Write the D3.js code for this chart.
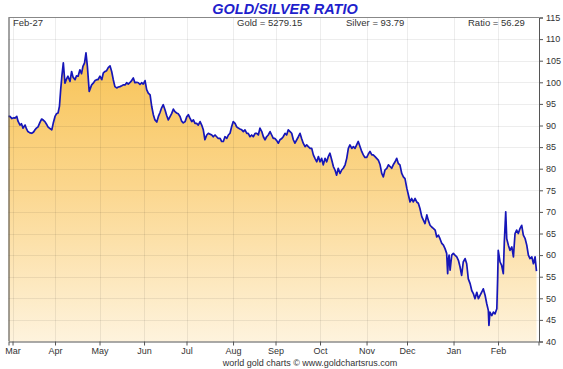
<!DOCTYPE html>
<html>
<head>
<meta charset="utf-8">
<script src="https://cdn.jsdelivr.net/npm/d3@7"></script>
<style>
  html, body { margin: 0; padding: 0; background: #fff; }
  svg { display: block; font-family: "Liberation Sans", Arial, sans-serif; }
</style>
</head>
<body>
<svg id="chart" width="563" height="369"></svg>
<script>
// ---- data ----
const startDate = "2025-02-27";
const endDate = "2026-02-27";
const monthLabels = ["Mar","Apr","May","Jun","Jul","Aug","Sep","Oct","Nov","Dec","Jan","Feb"];
const yTicks = [40,45,50,55,60,65,70,75,80,85,90,95,100,105,110,115];
const headerDate = "Feb-27";
const goldPrice = "5279.15";
const silverPrice = "93.79";
const lastRatio = "56.29";
// trading-day offset from Feb-27 (weekdays)
const tradeDay = [0,0.7,1.7,2.7,3.2,4.1,4.7,5.7,6.4,7.2,8.2,8.9,9.6,10.6,11.5,12.4,13.1,13.8,14.6,15.6,16.4,17.3,18.0,18.8,19.5,20.5,21.4,22.1,23.0,23.7,24.5,25.2,25.8,26.4,27.1,27.9,28.7,29.4,30.4,31.2,31.9,32.9,33.6,34.4,35.3,36.1,36.8,37.6,38.3,39.0,39.9,41.1,41.9,42.8,43.6,44.2,45.2,46.1,46.9,47.7,48.5,49.3,50.2,51.0,51.8,52.6,53.5,54.3,55.1,56.0,56.7,57.6,58.4,59.2,60.1,60.9,61.7,62.5,63.4,64.2,65.0,65.8,66.6,67.5,68.3,69.1,70.0,70.8,71.6,72.4,73.3,74.1,74.9,75.7,76.5,77.4,78.2,79.0,79.8,80.7,81.5,82.3,83.1,83.9,84.8,85.6,86.4,87.3,88.1,88.9,89.7,90.6,91.4,92.2,93.0,93.8,94.7,95.5,96.3,97.1,98.0,98.8,99.6,100.5,101.2,102.1,102.9,103.7,104.6,105.4,106.2,107.0,107.9,108.7,109.5,110.3,111.1,112.0,112.8,113.6,114.4,115.3,116.1,116.9,117.8,118.5,119.4,120.2,121.0,121.9,122.7,123.5,124.3,125.2,126.0,126.8,127.6,128.4,129.3,130.1,130.9,131.7,132.6,133.4,134.2,135.1,135.8,136.7,137.5,138.3,139.2,140.0,140.8,141.6,142.5,143.3,144.1,144.9,145.7,146.6,147.4,148.2,149.1,149.9,150.7,151.5,152.4,153.2,154.0,154.8,155.6,156.5,157.3,158.1,158.9,159.8,160.6,161.4,162.2,163.0,163.9,164.7,165.5,166.4,167.2,168.0,168.8,169.7,170.5,171.3,172.1,172.9,173.8,174.6,175.4,176.2,177.1,177.9,178.7,179.6,180.3,181.2,182.0,182.8,183.7,184.5,185.3,186.1,187.0,187.8,188.6,189.4,190.2,191.1,191.9,192.7,193.5,194.4,195.2,196.0,196.9,197.7,198.5,199.3,200.1,201.0,201.8,202.6,203.4,204.3,205.1,205.9,206.8,207.5,208.4,209.2,210.0,210.9,211.7,212.5,213.3,214.2,215.0,215.8,216.6,217.1,217.4,217.8,218.3,219.1,219.9,220.7,221.6,222.4,223.2,224.0,224.8,225.7,226.5,227.3,228.2,229.0,229.8,230.6,231.5,232.3,233.1,233.9,234.7,235.6,236.4,237.2,237.5,238.0,238.9,239.7,240.5,241.4,241.8,242.1,243.0,243.8,244.6,245.1,245.8,246.3,247.1,247.9,248.8,249.6,250.4,251.2,252.0,252.9,253.7,254.5,255.4,256.2,257.0,257.8,258.7,259.5,260.3,261.0];
const ratio = [92.1,92.1,91.6,91.8,91.7,92.1,91.0,90.1,90.4,89.4,90.1,89.2,88.6,88.3,88.2,88.5,89.0,89.4,89.7,90.8,91.5,91.2,90.9,90.3,89.7,89.3,89.0,90.5,92.1,92.7,92.9,94.5,98.3,101.5,104.5,99.8,100.8,101.4,100.2,102.5,101.2,100.6,101.5,101.4,102.9,102.0,103.7,104.5,106.8,103.7,97.9,99.4,99.8,100.4,100.6,100.6,101.4,100.6,102.2,102.5,102.7,103.4,103.8,102.5,100.6,99.0,98.7,98.9,99.0,99.2,99.4,99.4,99.9,99.6,100.0,100.4,101.0,99.9,100.0,99.9,99.5,99.9,99.6,100.4,98.3,97.5,97.1,94.4,92.5,91.3,90.8,92.1,93.0,94.1,94.8,93.6,92.3,91.3,92.0,92.8,93.8,93.2,92.9,92.7,92.1,91.0,90.6,90.9,92.0,92.5,91.7,90.9,91.3,90.5,90.5,90.1,90.9,90.1,89.0,86.7,87.8,88.2,88.0,87.8,87.4,87.8,87.4,87.0,87.0,86.3,86.3,87.4,87.0,87.8,88.2,89.7,90.9,90.5,89.7,89.4,89.2,89.0,88.6,89.0,88.2,88.2,87.4,87.8,87.4,88.2,88.2,87.8,89.4,88.6,87.4,86.7,87.4,87.8,88.6,87.8,87.0,87.0,86.5,85.9,86.7,87.0,87.4,88.2,87.8,89.0,88.6,88.2,86.7,85.9,86.7,87.4,88.2,87.0,85.9,85.1,85.5,85.1,84.7,84.7,83.2,82.4,81.6,82.8,81.6,82.4,80.9,82.4,81.6,82.8,83.6,82.0,80.5,79.7,78.5,80.1,78.9,79.7,80.1,80.9,82.4,84.7,85.5,84.7,85.1,84.7,85.5,86.3,85.1,84.0,83.2,82.6,82.6,83.4,84.0,83.2,83.2,82.8,82.4,82.0,80.9,78.9,78.1,79.7,80.1,80.9,80.5,80.1,80.9,81.6,82.4,81.2,80.9,78.9,78.1,77.7,75.5,73.9,72.3,73.1,72.3,73.1,72.3,72.0,70.8,68.9,68.1,67.3,69.3,68.1,66.9,66.5,66.2,65.8,64.2,64.6,63.8,62.7,62.3,61.5,60.4,55.7,58.8,60.0,56.5,60.0,60.4,60.0,59.6,58.8,57.3,55.3,58.4,59.2,58.0,54.5,53.4,51.8,51.1,49.9,51.4,49.9,50.7,51.4,52.2,50.7,48.8,47.2,43.7,46.8,46.0,46.8,46.4,47.6,54.5,61.1,58.4,57.6,55.7,63.0,70.0,63.8,62.3,61.1,61.9,59.6,65.0,65.8,65.0,66.2,66.9,64.6,63.8,62.3,60.0,59.2,59.6,58.0,59.6,56.29];

(function () {
// ---- build trading calendar (weekdays) to place month ticks ----
const parse = d3.utcParse("%Y-%m-%d");
const allDays = d3.utcDay.range(parse(startDate), d3.utcDay.offset(parse(endDate), 1));
const tradingDates = allDays.filter(d => d.getUTCDay() !== 0 && d.getUTCDay() !== 6);
const monthTickIdx = [];
tradingDates.forEach((d, i) => {
  if (i > 0 && d.getUTCMonth() !== tradingDates[i - 1].getUTCMonth()) monthTickIdx.push(i);
});

const data = tradeDay.map((t, i) => ({ t, v: ratio[i] }));

// ---- layout ----
const svg = d3.select("#chart");
const pL = 8.5, pR = 539, pT = 17.5, pB = 341.5;
const x = d3.scaleLinear().domain([0, tradingDates.length]).range([pL, pR - 0.5]);
const y = d3.scaleLinear().domain([40, 115]).range([pB, pT]);

const defs = svg.append("defs");
const grad = defs.append("linearGradient").attr("id", "gold")
  .attr("gradientUnits", "userSpaceOnUse")
  .attr("x1", 0).attr("x2", 0).attr("y1", y(106)).attr("y2", y(40));
grad.append("stop").attr("offset", "0%").attr("stop-color", "#f8c458");
grad.append("stop").attr("offset", "45%").attr("stop-color", "#fbd68c");
grad.append("stop").attr("offset", "100%").attr("stop-color", "#fef3dd");

// area
const area = d3.area().x(d => x(d.t)).y0(y(40)).y1(d => y(d.v));
svg.append("path").datum(data).attr("d", area).attr("fill", "url(#gold)");

// grid
const grid = svg.append("g").attr("stroke", "#000").attr("stroke-opacity", 0.07).attr("stroke-width", 1);
yTicks.filter(v => v > 40 && v < 115).forEach(v => {
  grid.append("line").attr("x1", pL).attr("x2", pR).attr("y1", Math.round(y(v)) + 0.5).attr("y2", Math.round(y(v)) + 0.5);
});
monthTickIdx.forEach(i => {
  grid.append("line").attr("y1", pT).attr("y2", pB).attr("x1", Math.round(x(i)) + 0.5).attr("x2", Math.round(x(i)) + 0.5);
});

// line
const line = d3.line().x(d => x(d.t)).y(d => y(d.v));
svg.append("path").datum(data).attr("d", line)
  .attr("fill", "none").attr("stroke", "#1616b8").attr("stroke-width", 1.7).attr("stroke-linejoin", "round");

// frame
svg.append("line").attr("x1", pL + 0.5).attr("x2", pL + 0.5).attr("y1", pT).attr("y2", pB).attr("stroke", "#444");
svg.append("line").attr("x1", pL).attr("x2", pR).attr("y1", pT).attr("y2", pT).attr("stroke", "#888");

// axes
const yAxis = svg.append("g").attr("transform", `translate(${pR},0)`)
  .call(d3.axisRight(y).tickValues(yTicks).tickSize(4).tickPadding(3));
const xAxis = svg.append("g").attr("transform", `translate(0,${pB})`)
  .call(d3.axisBottom(x).tickValues(monthTickIdx).tickFormat((d, i) => monthLabels[i]).tickSize(4).tickPadding(2));
[yAxis, xAxis].forEach(g => {
  g.select(".domain").attr("stroke", "#555");
  g.selectAll(".tick line").attr("stroke", "#555");
  g.selectAll("text").attr("fill", "#333").attr("font-size", 9).attr("font-family", "Liberation Sans, Arial, sans-serif");
});

// header row
const hdr = svg.append("g").attr("font-size", 9.5).attr("fill", "#333");
hdr.append("text").attr("x", 13).attr("y", 26).text(headerDate);
hdr.append("text").attr("x", 237).attr("y", 26).text(`Gold = ${goldPrice}`);
hdr.append("text").attr("x", 346).attr("y", 26).text(`Silver = ${silverPrice}`);
hdr.append("text").attr("x", 468).attr("y", 26).text(`Ratio = ${lastRatio}`);

// title
svg.append("text").attr("x", 285).attr("y", 14).attr("text-anchor", "middle")
  .attr("font-size", 14.5).attr("font-weight", "bold").attr("font-style", "italic")
  .attr("fill", "#1f1fcc").text("GOLD/SILVER RATIO");

// footer
svg.append("text").attr("x", 310).attr("y", 365.5).attr("text-anchor", "middle")
  .attr("font-size", 9).attr("fill", "#333").text("world gold charts © www.goldchartsrus.com");
})();
</script>
</body>
</html>
